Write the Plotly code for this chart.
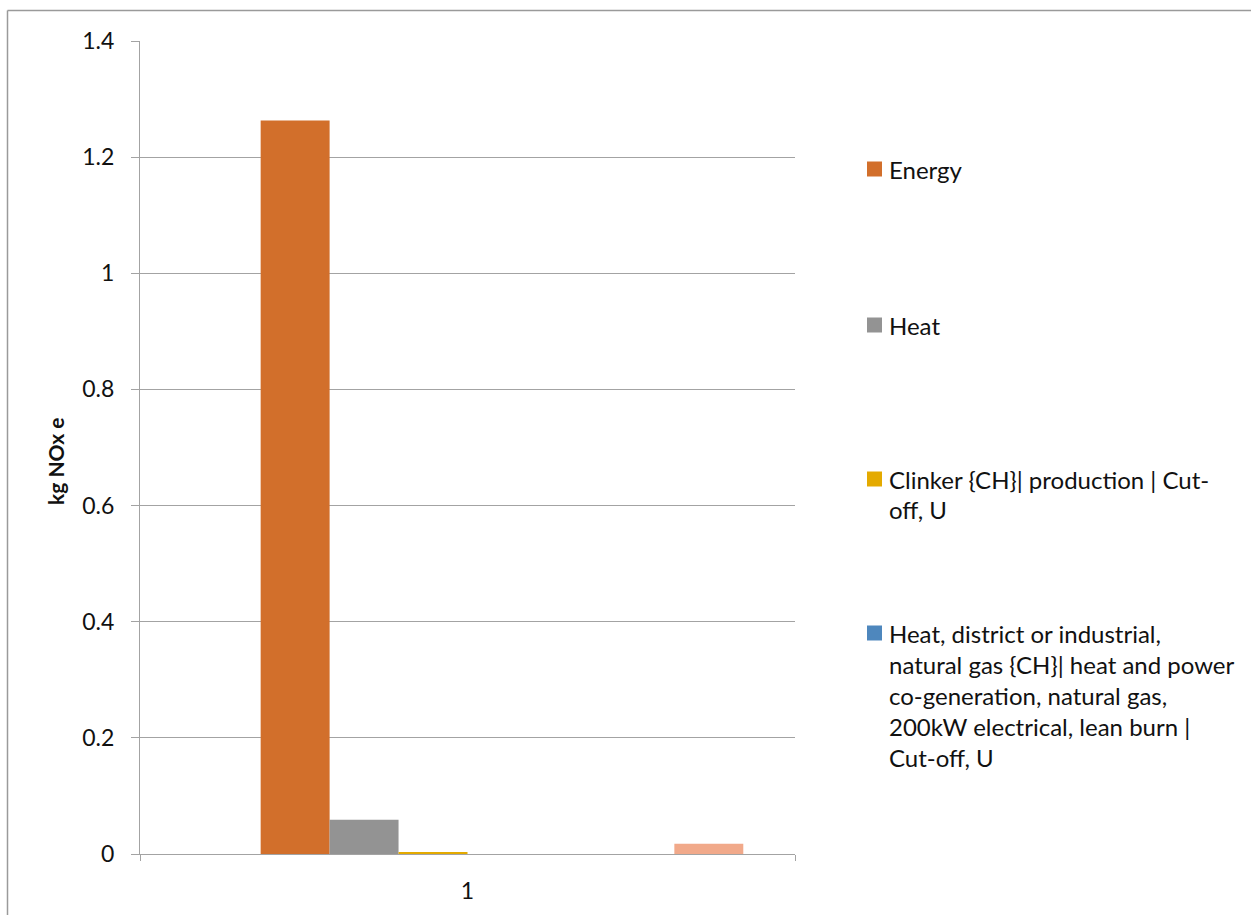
import plotly.graph_objects as go

# ---- data -------------------------------------------------------------
categories = ["1"]

# Legend text for each series, one entry per wrapped line
series_lines = [
    ["Series 1"],
    ["Energy"],
    ["Heat"],
    ["Clinker {CH}| production | Cut-", "off, U"],
    ["Heat, district or industrial,",
     "natural gas {CH}| heat and power",
     "co-generation, natural gas,",
     "200kW electrical, lean burn |",
     "Cut-off, U"],
    ["Series 6"],
    ["Series 7"],
    ["Series 8"],
]
series_values = [None, 1.263, 0.059, 0.0035, 0.0, None, None, 0.0175]
series_colors = ["#5B9BD5", "#D26F2B", "#939393", "#E4AA00", "#4E87BD",
                 "#70AD47", "#264478", "#F1A98A"]
# only the first entries of the legend fit in the chart box
legend_series = [1, 2, 3, 4]

y_ticks = [0, 0.2, 0.4, 0.6, 0.8, 1.0, 1.2, 1.4]
y_title = "kg NOx e"

# ---- geometry (pixels) -------------------------------------------------
W, H = 1251, 915
PL, PR, PT, PB = 140, 795, 41, 854          # plot area edges
FONT = "Lato"
GRID = "#A3A3A3"
TEXT = "#111111"


def px_x(x):
    return (x - PL) / (PR - PL)


def px_y(y):
    return (PB - y) / (PB - PT)


fig = go.Figure()
for lines, val, col in zip(series_lines, series_values, series_colors):
    name = " ".join(lines).replace("Cut- off", "Cut-off")
    fig.add_trace(go.Bar(
        x=categories, y=[val], name=name,
        marker=dict(color=col, line=dict(width=0)), showlegend=False,
    ))

fig.update_layout(
    width=W, height=H,
    margin=dict(l=PL, r=W - PR, t=PT, b=H - PB, pad=0),
    paper_bgcolor="white", plot_bgcolor="white",
    barmode="group", bargap=1.5 / 9.5, bargroupgap=0,
    font=dict(family=FONT, size=22, color=TEXT),
)

fig.update_xaxes(
    type="category", range=[-0.5, 0.5],
    showline=True, linecolor=GRID, linewidth=1.3,
    ticks="outside", tickson="boundaries", ticklen=6, tickcolor=GRID, tickwidth=1.3,
    showgrid=False, zeroline=False,
    tickfont=dict(family=FONT, size=23, color=TEXT),
    ticklabelstandoff=16,
)
fig.update_yaxes(
    range=[0, 1.4], tickvals=y_ticks, ticktext=[f"{v:g}" for v in y_ticks],
    showline=True, linecolor=GRID, linewidth=1.3,
    ticks="outside", ticklen=8, tickcolor=GRID, tickwidth=1.3,
    showgrid=True, gridcolor=GRID, gridwidth=1.3, zeroline=False,
    tickfont=dict(family=FONT, size=23, color=TEXT),
    ticklabelstandoff=12,
)

# axis title
fig.add_annotation(
    xref="paper", yref="paper", x=px_x(55), y=px_y(461),
    text=f"<b>{y_title}</b>", textangle=-90, showarrow=False,
    font=dict(family=FONT, size=21, color=TEXT),
    xanchor="center", yanchor="middle",
)

# legend drawn as squares and wrapped text
legend_top = [169, 325, 479, 633]
LINE_H = 31
for idx, y0 in zip(legend_series, legend_top):
    fig.add_shape(
        type="rect", xref="paper", yref="paper",
        x0=px_x(867), x1=px_x(882), y0=px_y(y0 - 7.5), y1=px_y(y0 + 7.5),
        fillcolor=series_colors[idx], line=dict(width=0),
    )
    for k, line in enumerate(series_lines[idx]):
        fig.add_annotation(
            xref="paper", yref="paper", x=px_x(887), y=px_y(y0 + k * LINE_H),
            text=line, showarrow=False, xanchor="left", yanchor="middle",
            font=dict(family=FONT, size=24, color=TEXT),
        )

# chart frame (left and top edges lie inside the page)
fig.add_shape(type="line", xref="paper", yref="paper",
              x0=px_x(7.5), x1=px_x(7.5), y0=px_y(10.5), y1=px_y(H + 5),
              line=dict(color="#9A9A9A", width=1.5))
fig.add_shape(type="line", xref="paper", yref="paper",
              x0=px_x(7.5), x1=px_x(W + 5), y0=px_y(10.5), y1=px_y(10.5),
              line=dict(color="#9A9A9A", width=1.5))

fig.write_html("out.html")
